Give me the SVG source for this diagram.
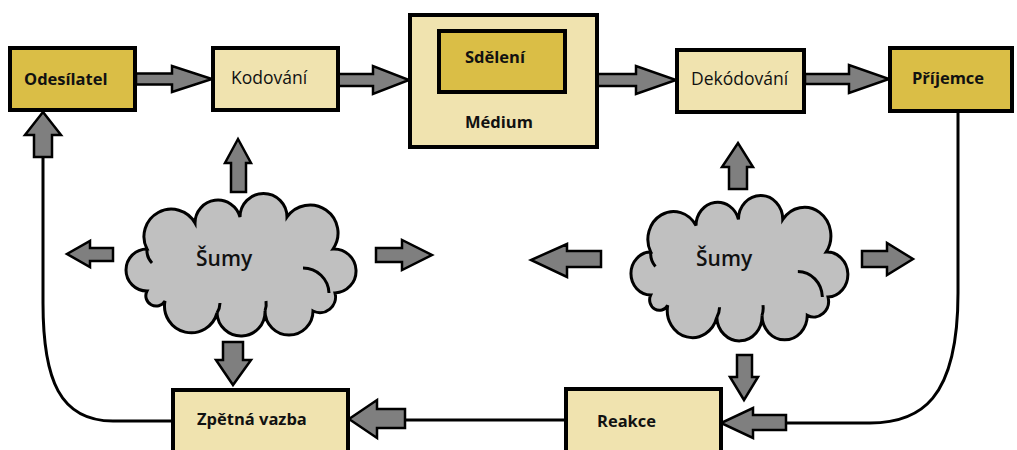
<svg xmlns="http://www.w3.org/2000/svg" width="1017" height="450" viewBox="0 0 1017 450">
<style>
.dark{fill:#DABE46;stroke:#000;stroke-width:4}
.light{fill:#F0E3AF;stroke:#000;stroke-width:4}
.arr{fill:#7F7F7F;stroke:#000;stroke-width:2.5;stroke-linejoin:miter}
.ln{fill:none;stroke:#000;stroke-width:3}
.cloud{fill:#C0C0C0;stroke:#000;stroke-width:3;vector-effect:non-scaling-stroke}
.curl{fill:none;stroke:#000;stroke-width:3;vector-effect:non-scaling-stroke}
.t{font-family:"Open Sans","DejaVu Sans",sans-serif;fill:#111}
.n{font-size:17.5px;font-weight:400}
.b{font-size:16.5px;font-weight:700}
.s{font-size:21px;font-weight:600}
</style>
<defs>
<g id="cloudShape">
<path class="cloud" d="M22 98 A21 21 0 0 1 22 56 A27.3 27.3 0 0 1 70 30 A22.9 22.9 0 0 1 115 24 A23.5 23.5 0 0 1 162 24 A28 28 0 0 1 208 56 A22 22 0 0 1 210 100 A15.6 15.6 0 0 1 188 118 A24 24 0 0 1 140 118 A24 24 0 0 1 92 120 A26.7 26.7 0 0 1 40 108 A10.3 10.3 0 0 1 22 98 Z"/>
<path class="curl" d="M178 75 A26 26 0 0 1 204 100"/>
<path class="curl" d="M22 56 A18 18 0 0 0 27 70"/>
<path class="curl" d="M92 120 A20 20 0 0 0 95 110"/>
<path class="curl" d="M140 118 A20 20 0 0 0 141 108"/>
</g>
</defs>

<g id="connectors">
<path class="ln" d="M958 111 V293 C958 400 920 423 870 423 H786"/>
<path class="ln" d="M566 420 H405"/>
<path class="ln" d="M173 421 H113 C60 421 43 380 43 303 V157"/>
<polygon class="arr" points="136,73.5 172,73.5 172,66 212,79 172,92 172,84.5 136,84.5"/>
<polygon class="arr" points="338,74 373,74 373,66 409,80 373,94 373,86 338,86"/>
<polygon class="arr" points="597,74 636,74 636,66 676,80 636,94 636,86 597,86"/>
<polygon class="arr" points="805,74 849,74 849,65 889,79 849,93 849,84 805,84"/>
<polygon class="arr" points="34,157 34,135 25,135 43,112 61,135 52,135 52,157"/>
<polygon class="arr" points="231,192 231,163 225,163 238,139 251,163 246,163 246,192"/>
<polygon class="arr" points="113,248 90,248 90,241 67,254 90,267 90,261 113,261"/>
<polygon class="arr" points="376,248 402,248 402,240 432,255 402,270 402,262 376,262"/>
<polygon class="arr" points="223,342 243,342 243,360 251,360 233,385 216,360 223,360"/>
<polygon class="arr" points="729,189 729,167 722,167 738,143 753,167 747,167 747,189"/>
<polygon class="arr" points="601,251 567,251 567,244 531,260 567,277 567,267 601,267"/>
<polygon class="arr" points="862,251 887,251 887,243 913,259 887,275 887,267 862,267"/>
<polygon class="arr" points="737,355 752,355 752,377 758,377 744,400 730,377 737,377"/>
<polygon class="arr" points="786,415 753,415 753,408 721,423 753,438 753,430 786,430"/>
<polygon class="arr" points="405,409 377,409 377,400 349,419 377,438 377,428 405,428"/>
</g>

<g id="odesilatel">
<rect class="dark" x="10" y="48" width="125" height="62"/>
<text class="t b" x="24" y="85">Odesílatel</text>
</g>
<g id="kodovani">
<rect class="light" x="213" y="48" width="125" height="62"/>
<text class="t n" x="231" y="84">Kodování</text>
</g>
<g id="medium">
<rect class="light" x="410" y="15" width="187" height="132"/>
<text class="t b" x="465" y="128">Médium</text>
</g>
<g id="sdeleni">
<rect class="dark" x="439" y="31" width="126" height="61"/>
<text class="t b" x="465" y="63">Sdělení</text>
</g>
<g id="dekodovani">
<rect class="light" x="677" y="50" width="127" height="62"/>
<text class="t n" x="691" y="85">Dekódování</text>
</g>
<g id="prijemce">
<rect class="dark" x="890" y="48" width="122" height="63"/>
<text class="t b" x="912" y="84">Příjemce</text>
</g>
<g id="sumy1">
<use href="#cloudShape" transform="translate(125,193)"/>
<text class="t s" x="196" y="266">Šumy</text>
</g>
<g id="sumy2">
<use href="#cloudShape" transform="translate(630,195) scale(0.943,1.02)"/>
<text class="t s" x="696" y="266">Šumy</text>
</g>
<g id="zpetna-vazba">
<rect class="light" x="173" y="390" width="175" height="70"/>
<text class="t b" x="197" y="425">Zpětná vazba</text>
</g>
<g id="reakce">
<rect class="light" x="566" y="389" width="155" height="70"/>
<text class="t b" x="597" y="427">Reakce</text>
</g>
</svg>
